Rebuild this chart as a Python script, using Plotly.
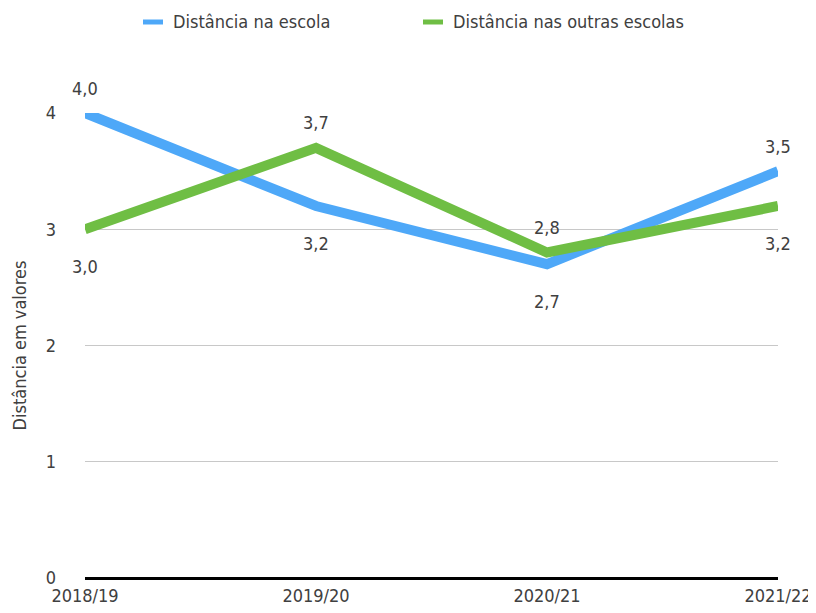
import plotly.graph_objects as go

categories = ["2018/19", "2019/20", "2020/21", "2021/22"]
escola = [4.0, 3.2, 2.7, 3.5]
outras = [3.0, 3.7, 2.8, 3.2]
escola_pos = ["above", "below", "below", "above"]
outras_pos = ["below", "above", "above", "below"]
y_ticks = [0, 1, 2, 3, 4]
name_escola = "Distância na escola"
name_outras = "Distância nas outras escolas"
y_title = "Distância em valores"

BLUE = "#4EA8F8"
GREEN = "#6FBE44"
FONT = "DejaVu Sans Condensed, DejaVu Sans, sans-serif"
TXT = "#404040"

OFF = 8  # page body margin
W, H = 816, 613 - 2 * OFF
L, T = 85 - OFF, 113 - OFF
R = W - (778 - OFF)
B = H - (578 - OFF)
PW, PH = W - L - R, H - T - B

def px_x(px):
    return (px - OFF - L) / PW

def px_y(py):
    return (H - B - (py - OFF)) / PH

fig = go.Figure()
for vals, col in [(escola, BLUE), (outras, GREEN)]:
    fig.add_trace(go.Scatter(x=categories, y=vals, mode="lines",
                             line=dict(color=col, width=10),
                             showlegend=False, cliponaxis=False))

for vals, poss in [(escola, escola_pos), (outras, outras_pos)]:
    for c, v, p in zip(categories, vals, poss):
        fig.add_annotation(x=c, y=v, text=f"{v:.1f}".replace(".", ","),
                           showarrow=False, yshift=25 if p == "above" else -37,
                           font=dict(family=FONT, size=18, color=TXT))

# manual legend
for name, col, sx in [(name_escola, BLUE, 143), (name_outras, GREEN, 423)]:
    fig.add_shape(type="line", xref="paper", yref="paper",
                  x0=px_x(sx), x1=px_x(sx + 20), y0=px_y(22), y1=px_y(22),
                  line=dict(color=col, width=5))
    fig.add_annotation(xref="paper", yref="paper", x=px_x(sx + 28), y=px_y(22),
                       xanchor="left", yanchor="middle", text=name, showarrow=False,
                       font=dict(family=FONT, size=18, color=TXT))

fig.update_layout(
    width=W, height=H,
    margin=dict(l=L, r=R, t=T, b=B, autoexpand=False),
    plot_bgcolor="white", paper_bgcolor="white",
    font=dict(family=FONT, size=18, color=TXT),
    showlegend=False,
    xaxis=dict(type="category", range=[0, 3], showgrid=False, automargin=False,
               showline=False, ticks="", ticklabelstandoff=5,
               tickfont=dict(size=18, color=TXT)),
    yaxis=dict(range=[0, 4], tickvals=y_ticks, showgrid=True, gridcolor="#C8C8C8",
               gridwidth=1, zeroline=True, zerolinecolor="black", zerolinewidth=3,
               ticks="", ticklabelstandoff=28, automargin=False,
               title=dict(text=y_title, font=dict(size=18, color=TXT), standoff=14),
               tickfont=dict(size=18, color=TXT)),
)
fig.write_html("out.html")
